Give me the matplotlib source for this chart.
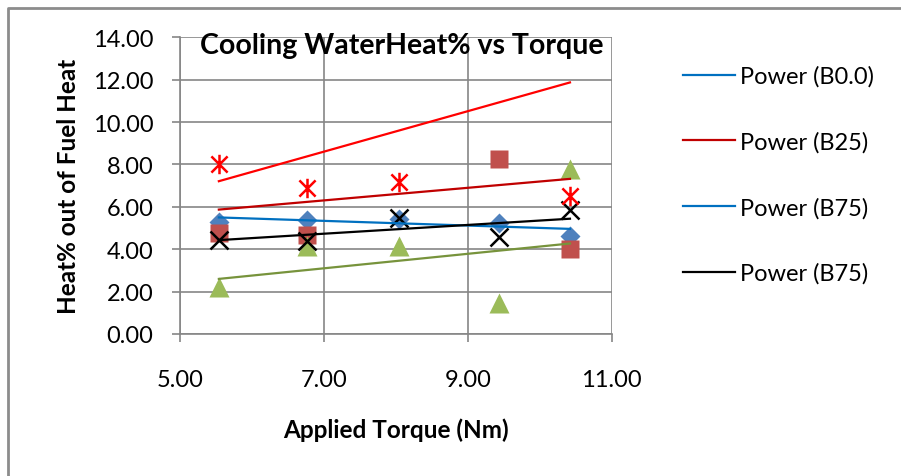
import numpy as np
import matplotlib
matplotlib.use("Agg")
import matplotlib.pyplot as plt
from matplotlib.path import Path
from matplotlib.lines import Line2D

plt.rcParams['font.family'] = ['Lato', 'DejaVu Sans']

# applied torque (Nm) and cooling-water heat share (%) per blend
torque = [5.54, 6.77, 8.05, 9.43, 10.42]
heat_b00 = [5.27, 5.40, 5.43, 5.22, 4.64]
heat_b25 = [4.76, 4.66, np.nan, 8.24, 4.00]
heat_b50 = [2.20, 4.16, 4.13, 1.48, 7.80]
heat_b75 = [4.43, 4.40, 5.45, 4.57, 5.85]
heat_b100 = [8.03, 6.87, 7.16, np.nan, 6.50]

# trendline values at the first and last torque point
trend_x = [torque[0], torque[-1]]
trend_red = [7.21, 11.87]
trend_b25 = [5.87, 7.32]
trend_b00 = [5.50, 4.96]
trend_b75 = [4.43, 5.44]
trend_green = [2.60, 4.27]

legend_labels = ['Power (B0.0)', 'Power (B25)', 'Power (B75)', 'Power (B75)']
legend_colors = ['#0070C0', '#C00000', '#0070C0', '#000000']

GRID = '#868686'

# Excel style star: an x with a vertical bar
star = Path([(-0.5, -0.5), (0.5, 0.5), (-0.5, 0.5), (0.5, -0.5), (0, -0.6), (0, 0.6)],
            [Path.MOVETO, Path.LINETO, Path.MOVETO, Path.LINETO, Path.MOVETO, Path.LINETO])

fig = plt.figure(figsize=(9.01, 4.77), dpi=100)
ax = fig.add_axes([180 / 901, (477 - 335) / 477, (611.7 - 180) / 901, (335 - 38.3) / 477])

ax.plot(torque, heat_b00, 'D', color='#4F81BD', ms=10, mec='none', zorder=3)
ax.plot(torque, heat_b25, 's', color='#C0504D', ms=13, mec='none', zorder=3)
ax.plot(torque, heat_b50, '^', color='#9BBB59', ms=14, mec='none', zorder=3)
ax.plot(torque, heat_b75, 'x', color='black', ms=13, mew=1.8, zorder=3)
ax.plot(torque, heat_b100, marker=star, ls='none', color='#FF0000', ms=14, mew=1.8, zorder=3)

ax.plot(trend_x, trend_red, color='#FF0000', lw=1.6, zorder=4)
ax.plot(trend_x, trend_b25, color='#C00000', lw=1.6, zorder=4)
ax.plot(trend_x, trend_b00, color='#0070C0', lw=1.6, zorder=4)
ax.plot(trend_x, trend_b75, color='black', lw=1.6, zorder=4)
ax.plot(trend_x, trend_green, color='#77933C', lw=1.6, zorder=4)

ax.set_xlim(5, 11)
ax.set_ylim(0, 14)
ax.set_xticks([5, 7, 9, 11])
ax.set_yticks(np.arange(0, 15, 2))
ax.xaxis.set_major_formatter('{x:.2f}')
ax.yaxis.set_major_formatter('{x:.2f}')
ax.grid(True, color=GRID, lw=1.2)
ax.set_axisbelow(True)
for side in ['top', 'right']:
    ax.spines[side].set_visible(False)
for side in ['left', 'bottom']:
    ax.spines[side].set_color(GRID)
    ax.spines[side].set_linewidth(1.2)
ax.tick_params(axis='both', direction='out', length=6, width=1.2, color=GRID, labelsize=17)
ax.tick_params(axis='y', pad=13)
ax.tick_params(axis='x', pad=19)

ax.set_xlabel('Applied Torque (Nm)', fontsize=17.5, fontweight='bold', labelpad=20)
ax.set_ylabel('Heat% out of Fuel Heat', fontsize=17.5, fontweight='bold', labelpad=9)
fig.text(402 / 901, 1 - 46 / 477, 'Cooling WaterHeat% vs Torque', fontsize=20.5,
         fontweight='bold', ha='center', va='center')

handles = [Line2D([], [], color=c, lw=1.6) for c in legend_colors]
fig.legend(handles, legend_labels, loc='upper left', bbox_to_anchor=(674 / 901, 1 - 57 / 477),
           frameon=False, fontsize=17, handlelength=2.2, handletextpad=0.2,
           labelspacing=1.87, borderaxespad=0)

# outer chart frame, left and top edges
fig.add_artist(Line2D([8 / 901, 8 / 901, 1], [0, 1 - 9 / 477, 1 - 9 / 477],
                      transform=fig.transFigure, color='#8C8C8C', lw=2))

fig.savefig('out.png', dpi=100)
